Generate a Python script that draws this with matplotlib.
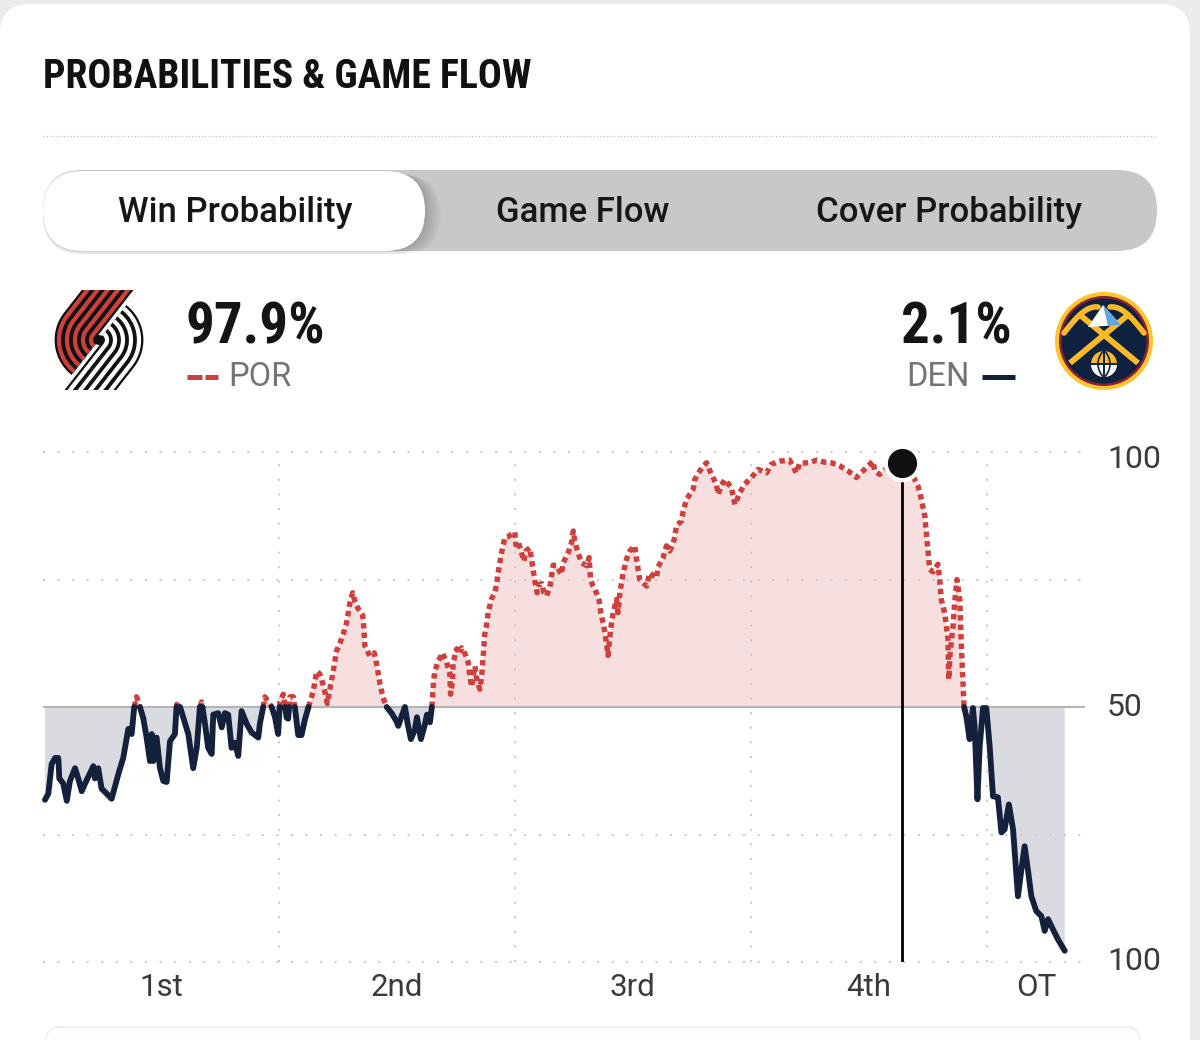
import numpy as np
import matplotlib
matplotlib.use('Agg')
import matplotlib.pyplot as plt
from matplotlib import font_manager
from matplotlib.patches import FancyBboxPatch, Circle, Rectangle, Polygon, Wedge

# game clock in minutes (48 regulation + 5 OT) and POR win probability (%)
minute = [
    0.10, 0.27, 0.44, 0.61, 0.78, 0.83, 1.03, 1.21, 1.37, 1.63,
    1.79, 1.97, 2.14, 2.39, 2.56, 2.64, 2.81, 2.98, 3.24, 3.49,
    3.83, 4.08, 4.34, 4.51, 4.64, 4.76, 4.93, 5.10, 5.27, 5.44,
    5.53, 5.61, 5.78, 5.95, 6.12, 6.29, 6.46, 6.71, 6.80, 6.97,
    7.13, 7.39, 7.64, 7.82, 7.98, 8.07, 8.24, 8.40, 8.58, 8.66,
    8.91, 9.09, 9.25, 9.42, 9.59, 9.76, 9.93, 10.10, 10.36, 10.61,
    10.95, 11.03, 11.20, 11.29, 11.46, 11.63, 11.80, 11.96, 12.05, 12.22,
    12.39, 12.47, 12.56, 12.73, 12.81, 12.98, 13.15, 13.32, 13.58, 13.74,
    13.92, 14.08, 14.17, 14.34, 14.46, 14.59, 14.76, 14.93, 15.10, 15.27,
    15.44, 15.61, 15.75, 15.92, 16.08, 16.26, 16.32, 16.37, 16.63, 16.85,
    16.97, 17.14, 17.30, 17.48, 17.73, 17.98, 18.07, 18.25, 18.41, 18.56,
    18.71, 18.91, 19.02, 19.22, 19.42, 19.53, 19.68, 19.78, 19.86, 19.93,
    20.10, 20.32, 20.53, 20.69, 20.73, 20.83, 20.86, 21.04, 21.20, 21.29,
    21.46, 21.63, 21.71, 21.80, 21.97, 22.08, 22.22, 22.31, 22.39, 22.47,
    22.56, 22.64, 22.81, 22.98, 23.07, 23.15, 23.24, 23.32, 23.49, 23.66,
    23.83, 24.00, 24.05, 24.17, 24.34, 24.46, 24.56, 24.76, 24.93, 25.02,
    25.13, 25.23, 25.36, 25.48, 25.61, 25.78, 25.95, 26.12, 26.37, 26.46,
    26.71, 26.88, 26.97, 27.05, 27.22, 27.39, 27.65, 27.78, 27.85, 27.98,
    28.15, 28.29, 28.37, 28.49, 28.58, 28.66, 28.74, 28.87, 29.00, 29.17,
    29.25, 29.34, 29.51, 29.68, 29.85, 30.10, 30.19, 30.27, 30.35, 30.70,
    30.86, 31.20, 31.29, 31.54, 31.71, 31.88, 32.05, 32.14, 32.22, 32.48,
    32.56, 32.73, 33.07, 33.15, 33.41, 33.75, 34.00, 34.25, 34.34, 34.51,
    34.68, 35.02, 35.19, 35.44, 35.69, 36.04, 36.37, 36.80, 37.05, 37.47,
    37.98, 38.32, 38.49, 39.00, 39.34, 39.76, 40.10, 40.52, 40.95, 41.37,
    41.63, 41.97, 42.22, 42.30, 42.56, 42.90, 43.22, 43.69, 43.98, 44.25,
    44.51, 44.68, 44.85, 44.93, 45.01, 45.10, 45.27, 45.52, 45.61, 45.69,
    45.86, 45.95, 46.03, 46.07, 46.14, 46.29, 46.37, 46.49, 46.63, 46.71,
    46.79, 46.85, 46.96, 47.13, 47.30, 47.39, 47.53, 47.64, 47.81, 47.98,
    48.15, 48.32, 48.57, 48.75, 48.91, 49.13, 49.34, 49.59, 49.76, 49.93,
    50.10, 50.27, 50.52, 50.78, 50.95, 51.12, 51.37, 51.63, 51.97,
]
por_prob = [
    31.8, 33.0, 38.8, 40.0, 40.0, 36.0, 35.0, 31.6, 35.5, 38.0,
    36.0, 33.5, 35.0, 37.0, 38.4, 36.0, 38.0, 34.0, 33.0, 32.0,
    36.8, 40.0, 45.7, 44.7, 50.0, 52.0, 50.0, 47.8, 44.0, 39.4,
    44.7, 39.4, 44.0, 38.0, 35.5, 35.3, 43.3, 44.7, 50.5, 50.0,
    48.0, 44.7, 38.0, 42.0, 50.0, 51.0, 46.7, 42.0, 40.8, 48.5,
    48.8, 46.0, 48.8, 48.5, 42.0, 43.0, 40.4, 49.2, 46.7, 45.0,
    44.0, 46.7, 50.0, 52.0, 51.0, 50.0, 48.0, 44.7, 51.0, 52.5,
    47.9, 47.7, 52.0, 52.0, 50.0, 44.5, 44.5, 47.5, 51.0, 53.0,
    57.0, 56.5, 55.5, 53.0, 50.7, 53.5, 57.0, 61.0, 62.5, 64.3,
    66.5, 70.4, 72.4, 70.0, 69.0, 68.0, 65.5, 62.0, 60.0, 60.6,
    58.4, 54.5, 51.8, 50.0, 48.8, 47.2, 46.3, 48.3, 50.0, 46.5,
    43.7, 45.5, 48.0, 43.7, 46.5, 48.5, 47.0, 50.0, 54.8, 57.0,
    59.0, 60.6, 58.7, 56.7, 52.5, 55.0, 58.7, 61.4, 60.4, 61.6,
    60.5, 58.7, 56.0, 54.0, 58.0, 55.0, 53.5, 56.0, 60.0, 64.3,
    66.0, 68.5, 71.2, 72.4, 74.0, 76.3, 78.3, 80.2, 83.2, 83.4,
    83.9, 84.3, 81.8, 82.5, 80.2, 78.6, 80.6, 81.2, 77.0, 74.7,
    72.4, 74.0, 74.2, 72.4, 71.8, 73.5, 77.8, 77.7, 76.0, 78.3,
    80.2, 82.2, 84.5, 82.5, 80.2, 78.3, 77.7, 79.3, 75.0, 73.7,
    72.4, 70.8, 68.5, 66.5, 64.6, 62.6, 60.1, 65.2, 68.5, 71.1,
    68.5, 72.4, 76.3, 79.0, 80.6, 81.6, 79.0, 77.0, 75.0, 73.7,
    76.3, 75.3, 77.5, 79.3, 81.6, 80.6, 82.0, 83.5, 85.5, 86.5,
    88.4, 90.7, 92.7, 94.6, 96.3, 97.9, 95.6, 93.7, 91.7, 93.5,
    94.6, 93.0, 89.7, 92.0, 93.7, 95.0, 96.6, 95.9, 97.6, 98.2,
    98.4, 95.9, 97.8, 97.9, 98.4, 98.0, 97.9, 97.3, 96.3, 95.0,
    96.0, 97.3, 98.2, 96.3, 95.6, 96.8, 97.5, 97.9, 97.0, 95.3,
    93.3, 90.7, 87.5, 84.2, 80.9, 77.0, 76.5, 78.0, 75.0, 71.1,
    68.5, 65.9, 63.3, 55.4, 60.6, 66.0, 70.5, 75.0, 71.1, 62.0,
    55.4, 50.0, 48.2, 43.7, 49.8, 46.0, 31.9, 42.0, 49.8, 49.8,
    42.4, 32.5, 32.3, 25.4, 26.0, 30.9, 26.0, 12.9, 18.0, 22.7,
    18.0, 12.9, 10.0, 9.0, 6.1, 8.4, 6.4, 4.4, 2.2,
]

quarters = ['1st', '2nd', '3rd', '4th', 'OT']
quarter_mid = [6, 18, 30, 42, 50.5]
quarter_breaks = [12, 24, 36, 48]
game_length = 53

now_minute = 43.69
por_now = 97.9
den_now = 2.1
tabs = ['Win Probability', 'Game Flow', 'Cover Probability']
tab_centers = [235, 583, 949]

RED = '#cf403c'
NAVY = '#14213d'
PINK = '#f7dfdf'
GREYFILL = '#d9dbe1'

names = {f.name for f in font_manager.fontManager.ttflist}


def pick(cands, default='DejaVu Sans'):
    for c in cands:
        if c in names:
            return c
    return default


COND = pick(['Roboto Condensed', 'Liberation Sans Narrow', 'Noto Sans Condensed',
             'Open Sans Condensed', 'DejaVu Sans Condensed'])
SANS = pick(['Roboto', 'Inter', 'Noto Sans', 'Lato'])
plt.rcParams['font.family'] = [SANS, 'DejaVu Sans']

fig = plt.figure(figsize=(12, 10.4), dpi=100)
fig.patch.set_facecolor('#ebebed')

# page layer in pixel units (y downwards)
bg = fig.add_axes([0, 0, 1, 1])
bg.set_xlim(0, 1200)
bg.set_ylim(1040, 0)
bg.axis('off')

bg.add_patch(FancyBboxPatch((0, 4), 1190, 1100, boxstyle='round,pad=0,rounding_size=30',
                            fc='white', ec='none'))
bg.add_patch(FancyBboxPatch((46, 1027), 1094, 60, boxstyle='round,pad=0,rounding_size=14',
                            fc='#fdfdfd', ec='#ececec', lw=1))

bg.text(43, 88, 'PROBABILITIES & GAME FLOW', fontsize=28.5, weight='bold',
        family=[COND, 'DejaVu Sans'], fontstretch='condensed', color='#111111', va='baseline')
bg.plot([43, 1157], [136, 136], color='#c2c2c2', lw=0.9, ls=(0, (1, 1.7)))

# segmented control
bg.add_patch(FancyBboxPatch((43, 170), 1114, 81, boxstyle='round,pad=0,rounding_size=40',
                            fc='#c8c8ca', ec='none'))
for i in range(1, 7):
    bg.add_patch(FancyBboxPatch((43, 171 + i * 0.6), 382 + i * 2.6, 80,
                                boxstyle='round,pad=0,rounding_size=40',
                                fc='black', ec='none', alpha=0.03))
bg.add_patch(FancyBboxPatch((43, 171), 382, 80, boxstyle='round,pad=0,rounding_size=40',
                            fc='white', ec='none'))
for label, cx in zip(tabs, tab_centers):
    bg.text(cx, 222, label, fontsize=25, weight='medium', color='#161616',
            ha='center', va='baseline')

# team headers
bg.text(186, 344, f'{por_now}%', fontsize=41, weight='bold', family=[COND, 'DejaVu Sans'],
        fontstretch='condensed', color='#141414', va='baseline')
bg.text(1012, 344, f'{den_now}%', fontsize=41, weight='bold', family=[COND, 'DejaVu Sans'],
        fontstretch='condensed', color='#141414', va='baseline', ha='right')
bg.text(228, 386, 'POR', fontsize=23.5, color='#747474', va='baseline')
bg.text(970, 386, 'DEN', fontsize=23.5, color='#747474', va='baseline', ha='right')
bg.plot([187, 202], [376.5, 376.5], color=RED, lw=3.6, solid_capstyle='butt')
bg.plot([205, 218], [376.5, 376.5], color=RED, lw=3.6, solid_capstyle='butt')
bg.plot([982, 1015], [376.5, 376.5], color=NAVY, lw=3.6, solid_capstyle='butt')


def blazers_logo(ax, cx, cy):
    a = np.deg2rad(52)
    d = np.array([np.cos(a), np.sin(a)])
    n = np.array([-np.sin(a), np.cos(a)])
    clip = Rectangle((cx - 60, cy - 50), 120, 100, transform=ax.transData)
    for sign, col in ((1, RED), (-1, 'white')):
        for r in (8, 16, 24, 32, 40):
            th = np.linspace(a + np.pi, a + np.pi / 2, 30)
            arc = np.c_[r * np.cos(th), r * np.sin(th)]
            pts = np.vstack([arc, r * n + 90 * d]) * sign
            xs, ys = cx + pts[:, 0], cy - pts[:, 1]
            for lw, c, z in ((8.8, '#111111', 3), (4.2, col, 4)):
                ln, = ax.plot(xs, ys, color=c, lw=lw * 0.72, zorder=z,
                              solid_capstyle='butt', solid_joinstyle='round')
                ln.set_clip_path(clip)
    ax.add_patch(Circle((cx, cy), 5, fc='#111111', ec='none', zorder=5))


def nuggets_logo(ax, cx, cy):
    ax.add_patch(Circle((cx, cy), 49, fc='#fdc52a', ec='none', zorder=3))
    ax.add_patch(Circle((cx, cy), 45, fc='#8b2131', ec='none', zorder=3))
    ax.add_patch(Circle((cx, cy), 42.5, fc='#0e2240', ec='none', zorder=3))
    gold = '#fdb927'
    # pick handles
    ax.plot([cx - 24, cx + 34], [cy - 26, cy + 22], color=gold, lw=4.2, zorder=4,
            solid_capstyle='butt')
    ax.plot([cx + 24, cx - 34], [cy - 26, cy + 22], color=gold, lw=4.2, zorder=4,
            solid_capstyle='butt')
    # pick heads
    t = np.linspace(0, 1, 20)
    for s in (-1, 1):
        xs = cx + s * (40 - 34 * t)
        ys = cy - 8 - 30 * np.sin(t * np.pi / 2) + 4 * t
        ax.plot(xs, ys, color=gold, lw=4.0, zorder=4, solid_capstyle='round')
    # mountain
    ax.add_patch(Polygon([[cx - 1, cy - 36], [cx - 16, cy - 14], [cx + 17, cy - 16]],
                         closed=True, fc='white', ec='none', zorder=5))
    ax.add_patch(Polygon([[cx - 1, cy - 36], [cx + 4, cy - 15], [cx + 17, cy - 16]],
                         closed=True, fc='#5fa8dd', ec='none', zorder=5))
    # ball
    ax.add_patch(Circle((cx, cy + 23), 13, fc=gold, ec='none', zorder=5))
    ax.add_patch(Wedge((cx, cy + 23), 13, 0, 180, fc='white', ec='none', zorder=5))
    ax.plot([cx - 13, cx + 13], [cy + 23, cy + 23], color='#0e2240', lw=1.4, zorder=6)
    ax.plot([cx, cx], [cy + 10, cy + 36], color='#0e2240', lw=1.4, zorder=6)
    for s in (-1, 1):
        yy = np.linspace(cy + 11, cy + 35, 20)
        ax.plot(cx + s * (6 - 0.03 * (yy - cy - 23) ** 2), yy, color='#0e2240',
                lw=1.2, zorder=6)


blazers_logo(bg, 99, 340)
nuggets_logo(bg, 1104, 341)

# chart
ax = fig.add_axes([43 / 1200, 78 / 1040, 1042 / 1200, 510 / 1040])
ax.patch.set_alpha(0)
ax.set_xlim(0, game_length)
ax.set_ylim(0, 100)
for s in ax.spines.values():
    s.set_visible(False)

t = np.array(minute)
p = np.array(por_prob)
ts, ps = [t[0]], [p[0]]
for i in range(1, len(t)):
    a, b = p[i - 1] - 50, p[i] - 50
    if a * b < 0:
        f = a / (a - b)
        ts.append(t[i - 1] + f * (t[i] - t[i - 1]))
        ps.append(50.0)
    ts.append(t[i])
    ps.append(p[i])
ts, ps = np.array(ts), np.array(ps)

ax.fill_between(ts, ps, 50, where=ps >= 50, color=PINK, lw=0, interpolate=True, zorder=1)
ax.fill_between(ts, ps, 50, where=ps <= 50, color=GREYFILL, lw=0, interpolate=True, zorder=1)

for y in (0, 25, 75, 100):
    ax.plot([0, game_length], [y, y], color='#c8c8c8', lw=1.4, ls=(0, (1, 6.5)),
            zorder=2, clip_on=False)
for x in quarter_breaks:
    ax.plot([x, x], [0, 100], color='#c8c8c8', lw=1.4, ls=(0, (1, 6.5)), zorder=2,
            clip_on=False)
ax.plot([0, game_length], [50, 50], color='#b4b4b4', lw=1.5, zorder=2.5)

ax.plot(ts, np.where(ps >= 50, ps, np.nan), color=RED, lw=3.9, ls=(0, (1, 0.75)),
        dash_capstyle='butt', zorder=3, clip_on=False)
ax.plot(ts, np.where(ps <= 50, ps, np.nan), color=NAVY, lw=4.2, solid_capstyle='round',
        solid_joinstyle='round', zorder=3, clip_on=False)

ax.plot([now_minute, now_minute], [0, por_now], color='black', lw=2, zorder=4)
ax.plot(now_minute, por_now, 'o', ms=27, mfc='white', mec='none', zorder=5, clip_on=False)
ax.plot(now_minute, por_now, 'o', ms=21, mfc='#111111', mec='none', zorder=6, clip_on=False)

ax.set_yticks([])
ax.set_xticks(quarter_mid)
ax.set_xticklabels(quarters)
ax.tick_params(axis='x', length=0, pad=8, labelsize=22.5, labelcolor='#3a3a3a')

for val, lab, dy in ((100, '100', -8), (50, '50', 0), (0, '100', 0)):
    ax.annotate(lab, xy=(1, val), xycoords=('axes fraction', 'data'),
                xytext=(22, dy), textcoords='offset pixels', fontsize=23,
                color='#3a3a3a', va='center', ha='left', annotation_clip=False)

fig.savefig('out.png', dpi=100)
